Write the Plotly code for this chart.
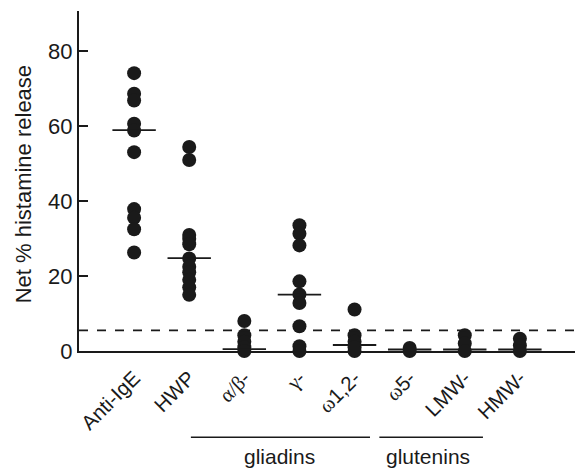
import plotly.graph_objects as go

categories = ["Anti-IgE", "HWP", "α/β-", "γ-", "ω1,2-", "ω5-", "LMW-", "HMW-"]
GREEK = "<span style='font-family:Liberation Serif'>{}</span>"
tick_labels = [
    "Anti-IgE",
    "HWP",
    GREEK.format("α/β") + "-",
    GREEK.format("γ") + "-",
    GREEK.format("ω") + "1,2-",
    GREEK.format("ω") + "5-",
    "LMW-",
    "HMW-",
]
values = {
    "Anti-IgE": [74.2, 68.7, 66.9, 60.7, 58.9, 53.1, 37.9, 35.6, 32.5, 26.3],
    "HWP": [54.5, 51.0, 31.0, 30.0, 28.5, 24.7, 22.5, 21.0, 19.0, 17.0, 15.0],
    "α/β-": [8.0, 4.2, 2.5, 1.0, 0.0],
    "γ-": [33.6, 31.3, 28.2, 18.6, 15.1, 12.8, 6.6, 1.3, 0.0],
    "ω1,2-": [11.1, 4.2, 2.5, 1.0, 0.0],
    "ω5-": [0.8, 0.0],
    "LMW-": [4.2, 2.0, 0.0],
    "HMW-": [3.3, 1.5, 0.0],
}
medians = [59.0, 24.8, 0.5, 15.05, 1.6, 0.4, 0.4, 0.4]
threshold = 5.5
y_title = "Net % histamine release"
groups = ["gliadins", "glutenins"]
group_spans = [(1.03, 4.28), (4.45, 6.33)]
group_centers = [2.63, 5.34]

INK = "#1a1a1a"
FONT = "Liberation Sans, Arial, sans-serif"

fig = go.Figure()
xs, ys = [], []
for i, c in enumerate(categories):
    for v in values[c]:
        xs.append(i)
        ys.append(v)
fig.add_trace(go.Scatter(
    x=xs, y=ys, mode="markers", cliponaxis=False,
    marker=dict(size=14, color=INK, line=dict(width=0)),
    showlegend=False, hoverinfo="skip",
))
fig.add_trace(go.Scatter(
    x=list(range(len(categories))), y=medians, mode="markers", cliponaxis=False,
    marker=dict(symbol="line-ew", size=31, line=dict(width=1.8, color=INK)),
    showlegend=False, hoverinfo="skip",
))

fig.add_shape(type="line", xref="paper", yref="y", x0=0, x1=1, y0=threshold, y1=threshold,
              line=dict(color=INK, width=1.8, dash="dash"))

for g, (a, b), cx in zip(groups, group_spans, group_centers):
    fig.add_shape(type="line", xref="x", yref="paper", x0=a, x1=b, y0=-0.254, y1=-0.254,
                  line=dict(color=INK, width=1.5))
    fig.add_annotation(x=cx, y=-0.311, xref="x", yref="paper", text=g, showarrow=False,
                       font=dict(size=21, color=INK, family=FONT), yanchor="middle",
                       borderpad=0)

fig.add_annotation(x=-0.113, y=0.49, xref="paper", yref="paper", text=y_title,
                   textangle=-90, showarrow=False, xanchor="center", yanchor="middle",
                   font=dict(size=22, color=INK, family=FONT))

fig.update_layout(
    width=578, height=469,
    margin=dict(l=79, r=3, t=11, b=118),
    plot_bgcolor="white", paper_bgcolor="white",
    font=dict(family=FONT, size=20, color=INK),
    xaxis=dict(
        range=[-1, 8.0], tickmode="array", tickvals=list(range(len(categories))),
        ticktext=tick_labels, tickangle=-45, showgrid=False, zeroline=False,
        showline=True, linecolor=INK, linewidth=2, ticks="",
        tickfont=dict(size=20.5, color=INK),
        ticklabelstandoff=5,
    ),
    yaxis=dict(
        range=[0, 90.8], tickvals=[0, 20, 40, 60, 80], showgrid=False, zeroline=False,
        showline=True, linecolor=INK, linewidth=2, ticks="inside", ticklen=9,
        tickwidth=2, tickcolor=INK, tickfont=dict(size=22, color=INK),
    ),
)

fig.write_html(
    "out.html",
    config={"displayModeBar": False},
    post_script="document.body.style.margin='0';document.body.style.overflow='hidden';",
)
